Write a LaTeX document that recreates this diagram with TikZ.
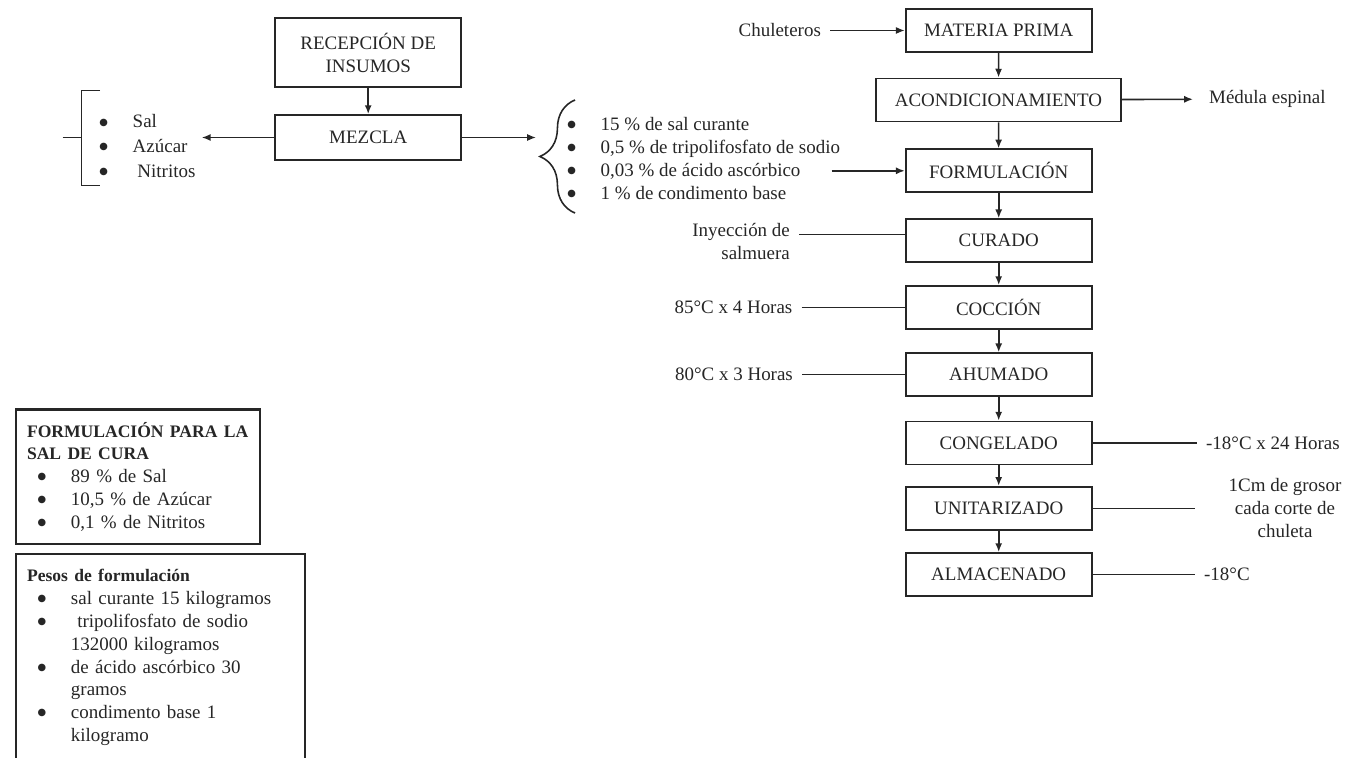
\documentclass[tikz,border=0pt]{standalone}
\usepackage{fontspec}
\setmainfont{Liberation Serif}
\newfontfamily\simbolo{DejaVu Sans}
\usepackage{tikz}
\usetikzlibrary{arrows.meta,decorations.pathreplacing}

\newcommand{\vin}{\makebox[19pt][l]{\raisebox{1.6pt}{\simbolo\fontsize{5.6}{6}\selectfont ●}}}
\newcommand{\itembox}{\hspace*{6pt}\vin}
\newcommand{\sangria}{\hspace*{25pt}}
\newcommand{\titulo}[1]{{\fontsize{10}{13}\selectfont\bfseries #1}}

\begin{document}
\begin{tikzpicture}[
    x=0.02cm, y=-0.02cm,
    font=\fontsize{10.8}{13}\selectfont,
    every node/.style={text=black!85},
    proceso/.style={draw=black!85, line width=1.1pt, minimum width=3.72cm, minimum height=0.86cm, inner sep=2pt},
    flecha/.style={-{Latex[length=5pt,width=4pt]}, line width=0.9pt, draw=black!85},
    linea/.style={line width=0.9pt, draw=black!85},
    etiqueta/.style={inner sep=5pt},
    lista/.style={align=left, inner sep=0pt},
    cuadro/.style={draw=black!85, line width=1.3pt, align=left, anchor=north west, inner xsep=6.2pt, inner ysep=4pt}
]
\useasboundingbox (0,0) rectangle (1348,757);

% Preparacion de la salmuera
\node[proceso, minimum height=1.39cm, align=center] (rec) at (368.2, 52.7) {RECEPCIÓN DE\\INSUMOS};
\node[proceso, minimum height=0.9cm] (mez) at (368.2, 137.5) {MEZCLA};
\draw[flecha] (rec) -- (mez);

% Insumos de la sal de cura
\draw[linea] (100,90.4) -- (81.4,90.4) -- (81.4,185.7) -- (100,185.7);
\draw[linea] (62.5,137.5) -- (81.4,137.5);
\node[lista, anchor=west, font=\fontsize{10.8}{14}\selectfont] (ins) at (99, 146) {\vin Sal\\ \vin Azúcar\\ \vin\ Nitritos};
\coordinate (insp) at (201.8, 137.5);
\draw[flecha] (mez.west) -- (insp);

% Aditivos de la salmuera
\draw[linea, decorate, decoration={brace, amplitude=20pt}] (575,213) -- (575,100);
\coordinate (brt) at (536, 137.5);
\draw[flecha] (mez.east) -- (brt);
\node[lista, anchor=west] (adit) at (567, 158.3) {\vin 15 \% de sal curante\\ \vin 0,5 \% de tripolifosfato de sodio\\ \vin 0,03 \% de ácido ascórbico\\ \vin 1 \% de condimento base};

% Linea principal del proceso
\node[proceso] (mp) at (998.7, 30.5) {MATERIA PRIMA};
\node[proceso, minimum width=4.9cm] (ac) at (998.5, 100) {ACONDICIONAMIENTO};
\node[proceso] (fo) at (998.7, 170.8) {FORMULACIÓN};
\node[proceso] (cu) at (998.7, 240.7) {CURADO};
\node[proceso] (co) at (998.7, 307.5) {COCCIÓN};
\node[proceso] (ah) at (998.7, 374.7) {AHUMADO};
\node[proceso] (cg) at (998.7, 443) {CONGELADO};
\node[proceso] (un) at (998.7, 508.3) {UNITARIZADO};
\node[proceso] (al) at (998.7, 574.5) {ALMACENADO};

\draw[flecha] (mp) -- (ac);
\draw[flecha] (ac) -- (fo);
\draw[flecha] (fo) -- (cu);
\draw[flecha] (cu) -- (co);
\draw[flecha] (co) -- (ah);
\draw[flecha] (ah) -- (cg);
\draw[flecha] (cg) -- (un);
\draw[flecha] (un) -- (al);

% Entradas y salidas
\node[etiqueta, anchor=east] (chu) at (830, 30.5) {Chuleteros};
\draw[flecha] (chu) -- (mp);
\node[etiqueta, anchor=west] (med) at (1200, 99) {Médula espinal};
\draw[flecha, shorten >=4pt] (ac) -- (med);
\coordinate (asc) at (831.7, 170.8);
\draw[flecha] (asc) -- (fo.west);

% Condiciones de cada etapa
\node[etiqueta, anchor=east, align=right] (iny) at (799, 241.5) {Inyección de\\salmuera};
\draw[linea] ([yshift=4pt]iny.east) -- ([yshift=4pt]iny.east -| cu.west);
\node[etiqueta, anchor=east] (t85) at (801.5, 307.5) {85°C x 4 Horas};
\draw[linea] (t85) -- (co);
\node[etiqueta, anchor=east] (t80) at (802, 374.7) {80°C x 3 Horas};
\draw[linea] (t80) -- (ah);
\node[etiqueta, anchor=west] (t24) at (1197, 443) {-18°C x 24 Horas};
\draw[linea] (cg) -- (t24);
\node[etiqueta, align=center] (gro) at (1285, 508.3) {1Cm de grosor\\cada corte de\\chuleta};
\draw[linea, shorten >=14pt] (un) -- (gro);
\node[etiqueta, anchor=west] (t18) at (1195, 574.5) {-18°C};
\draw[linea] (al) -- (t18);

% Formulaciones
\node[cuadro, text width=4.44cm, minimum height=2.69cm] (fsal) at (15, 408.3) {\titulo{FORMULACIÓN PARA LA}\\
  \titulo{SAL DE CURA}\\
  \itembox 89 \% de Sal\\
  \itembox 10,5 \% de Azúcar\\
  \itembox 0,1 \% de Nitritos};
\node[cuadro, text width=5.34cm, minimum height=4.146cm] (pesos) at (15, 552.7) {\titulo{Pesos de formulación}\\
  \itembox sal curante 15 kilogramos\\
  \itembox\ tripolifosfato de sodio\\
  \sangria 132000 kilogramos\\
  \itembox de ácido ascórbico 30\\
  \sangria gramos\\
  \itembox condimento base 1\\
  \sangria kilogramo};

\end{tikzpicture}
\end{document}
